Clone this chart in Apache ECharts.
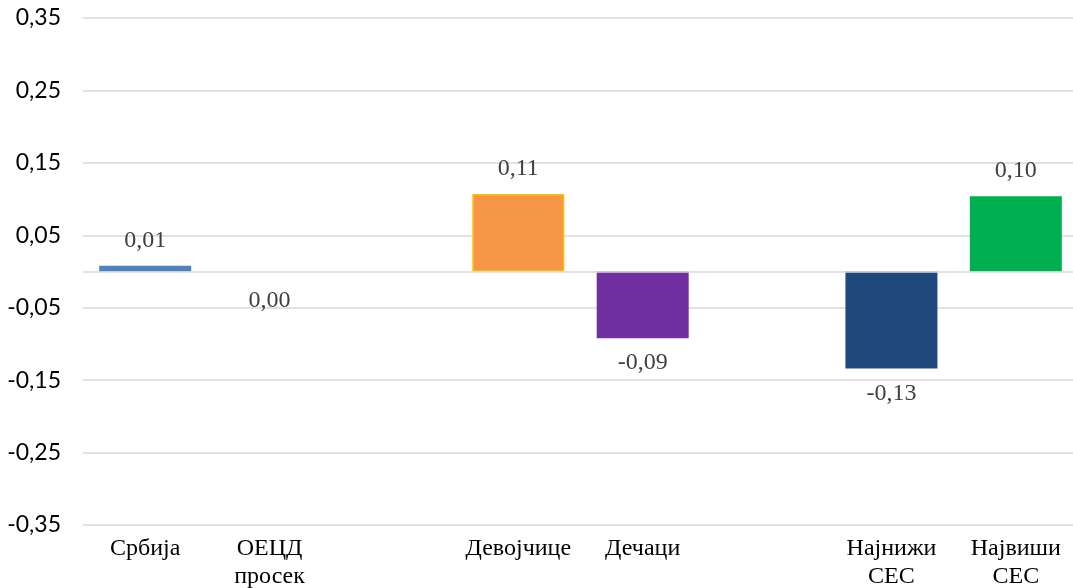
<!DOCTYPE html>
<html>
<head>
<meta charset="utf-8">
<script src="https://cdn.jsdelivr.net/npm/echarts@6/dist/echarts.min.js"></script>
<style>
  html, body { margin: 0; padding: 0; background: #ffffff; }
  #chart { width: 1073px; height: 588px; }
</style>
</head>
<body>
<div id="chart"></div>
<script>
// Categories (empty strings are spacer slots between groups)
const categories = ['Србија', 'ОЕЦД\nпросек', '', 'Девојчице', 'Дечаци', '', 'Најнижи\nСЕС', 'Највиши\nСЕС'];
// Values per category (null = spacer, no bar)
const values = [0.008, 0, null, 0.107, -0.092, null, -0.134, 0.104];
// Y axis range and step
const yMin = -0.35;
const yMax = 0.35;
const yStep = 0.1;

// Bar fill and outline colours, one per category
const barColors = ['#4F81BD', '#4F81BD', null, '#F79646', '#7030A0', null, '#1F497D', '#00B050'];
const barBorders = [null, null, null, '#FFC000', null, null, null, null];

const fmt = v => v.toFixed(2).replace('.', ',');

const seriesData = values.map((v, i) => {
  if (v === null) return null;
  return {
    value: v,
    itemStyle: {
      color: barColors[i],
      borderColor: barBorders[i] || barColors[i],
      borderWidth: barBorders[i] ? 1.5 : 0
    },
    label: { position: v > 0 ? 'top' : 'bottom', distance: v === 0 ? 16 : 12 }
  };
});

const chart = echarts.init(document.getElementById('chart'), null, { renderer: 'canvas' });
chart.setOption({
  backgroundColor: '#ffffff',
  animation: false,
  grid: { left: 83, top: 18, width: 995, height: 507, containLabel: false, outerBoundsMode: 'none' },
  xAxis: {
    type: 'category',
    data: categories,
    axisLine: { show: false, onZero: false },
    axisTick: { show: false },
    axisLabel: {
      interval: 0,
      margin: 10,
      color: '#000000',
      fontFamily: '"Liberation Serif", "Times New Roman", serif',
      fontSize: 24,
      lineHeight: 28
    },
    splitLine: { show: false }
  },
  yAxis: {
    type: 'value',
    min: yMin,
    max: yMax,
    interval: yStep,
    axisLine: { show: false },
    axisTick: { show: false },
    axisLabel: {
      margin: 22,
      color: '#000000',
      fontFamily: 'Lato, "Liberation Sans", sans-serif',
      fontSize: 23,
      formatter: v => fmt(v)
    },
    splitLine: { lineStyle: { color: '#d9d9d9', width: 1.5 } }
  },
  series: [{
    type: 'bar',
    data: seriesData,
    barWidth: 92,
    label: {
      show: true,
      color: '#404040',
      fontFamily: '"Liberation Serif", "Times New Roman", serif',
      fontSize: 24,
      lineHeight: 26,
      formatter: p => fmt(p.value)
    },
    markLine: {
      silent: true,
      symbol: 'none',
      label: { show: false },
      lineStyle: { color: '#d9d9d9', width: 1.5, type: 'solid' },
      data: [{ yAxis: 0 }]
    }
  }]
});
</script>
</body>
</html>
